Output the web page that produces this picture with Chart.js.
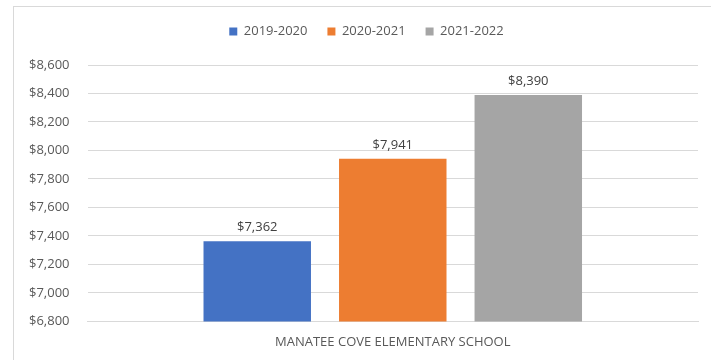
<!DOCTYPE html>
<html>
<head>
<meta charset="utf-8">
<script src="https://cdn.jsdelivr.net/npm/chart.js@4"></script>
<style>
  body { margin: 0; background: #fff; }
  .wrap { position: relative; width: 711px; height: 360px; overflow: hidden; }
  .frame {
    position: absolute; left: 13px; top: 6px;
    width: 720px; height: 380px;
    border: 1px solid #d9d9d9; pointer-events: none;
  }
  canvas { display: block; }
</style>
</head>
<body>
<div class="wrap">
  <canvas id="costChart"></canvas>
  <div class="frame"></div>
</div>
<script>
// Chart data
const schools = ['MANATEE COVE ELEMENTARY SCHOOL'];
const years = ['2019-2020', '2020-2021', '2021-2022'];
const cost1920 = [7362];
const cost2021 = [7941];
const cost2122 = [8390];
const barColors = ['#4472c4', '#ed7d31', '#a5a5a5'];

const fmt = v => '$' + v.toLocaleString('en-US');

// draw value labels above each bar
const valueLabels = {
  id: 'valueLabels',
  afterDatasetsDraw(chart) {
    const ctx = chart.ctx;
    ctx.save();
    ctx.font = '13px "Open Sans", sans-serif';
    ctx.fillStyle = '#404040';
    ctx.textAlign = 'center';
    ctx.textBaseline = 'alphabetic';
    chart.data.datasets.forEach((ds, i) => {
      chart.getDatasetMeta(i).data.forEach((bar, j) => {
        ctx.fillText(fmt(ds.data[j]), bar.x, bar.y - 10);
      });
    });
    ctx.restore();
  }
};

// more room under the legend, and centre it on the framed area
const legendSpace = {
  id: 'legendSpace',
  beforeInit(chart) {
    const legend = chart.legend;
    const fit = legend.fit;
    legend.fit = function () {
      fit.call(legend);
      this.height += 17;
    };
    const draw = legend.draw;
    legend.draw = function () {
      chart.ctx.save();
      chart.ctx.translate(12, 0);
      draw.call(legend);
      chart.ctx.restore();
    };
  }
};

const ctx = document.getElementById('costChart').getContext('2d');
const chart = new Chart(ctx, {
  type: 'bar',
  data: {
    labels: schools,
    datasets: [
      { label: years[0], data: cost1920, backgroundColor: barColors[0] },
      { label: years[1], data: cost2021, backgroundColor: barColors[1] },
      { label: years[2], data: cost2122, backgroundColor: barColors[2] }
    ]
  },
  options: {
    responsive: true,
    maintainAspectRatio: false,
    animation: false,
    barPercentage: 0.793,
    categoryPercentage: 0.666,
    layout: { padding: { left: 11, right: 13, top: 5, bottom: -3 } },
    scales: {
      y: {
        min: 6800,
        max: 8600,
        border: { display: false },
        grid: { color: '#d9d9d9', drawTicks: false },
        ticks: {
          stepSize: 200,
          padding: 18,
          color: '#595959',
          font: { family: 'Open Sans', size: 13 },
          callback: v => fmt(v)
        }
      },
      x: {
        border: { color: '#d9d9d9' },
        grid: { display: false, drawTicks: false },
        ticks: {
          padding: 13,
          color: '#595959',
          font: { family: 'Open Sans', size: 13 }
        }
      }
    },
    plugins: {
      legend: {
        display: true,
        position: 'top',
        labels: {
          boxWidth: 8,
          boxHeight: 8,
          padding: 20,
          color: '#595959',
          font: { family: 'Open Sans', size: 13 }
        }
      },
      tooltip: { enabled: false }
    }
  },
  plugins: [valueLabels, legendSpace]
});
</script>
</body>
</html>
